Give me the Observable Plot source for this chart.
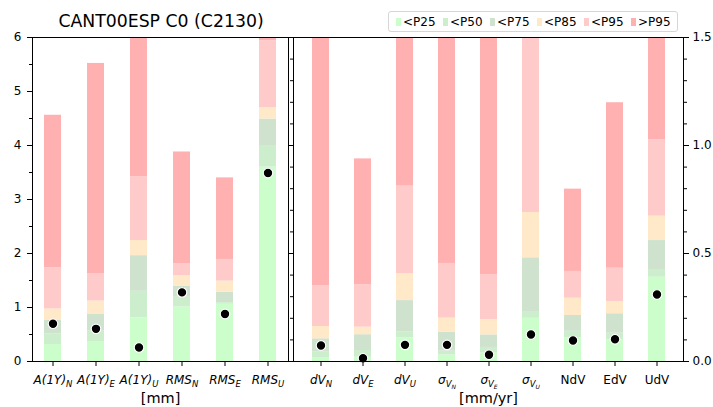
<!DOCTYPE html>
<html><head><meta charset="utf-8">
<script src="https://cdn.jsdelivr.net/npm/d3@7"></script>
<script src="https://cdn.jsdelivr.net/npm/@observablehq/plot@0.6"></script>
<style>
body{margin:0;background:#fff;}
#wrap{position:relative;width:713px;height:407px;font-family:"DejaVu Sans",sans-serif;overflow:hidden;background:#fff}
#wrap svg{position:absolute;top:0;overflow:visible}
#legend{position:absolute;left:388px;top:11px;width:290px;height:21px;border:1px solid #d6d6d6;border-radius:3px;background:rgba(255,255,255,0.85);box-sizing:border-box;font-size:12px;color:#000}
#legend .it{position:absolute;top:3px;white-space:nowrap;line-height:14px}
#legend .sw{display:inline-block;width:5px;height:8px;margin-right:2px;vertical-align:-0px}
#title{position:absolute;left:0;width:322px;top:10px;text-align:center;font-size:17.3px;line-height:22px;color:#000}
</style></head><body><div id="wrap"></div>
<script>
// ---------- data ----------
const title = "CANT00ESP C0 (C2130)";
const segments = ["<P25", "<P50", "<P75", "<P85", "<P95", ">P95"];
const segColors = ["#ccfecc", "#cdeecd", "#cee2ce", "#ffe9c9", "#ffcaca", "#ffb0b0"];

const leftCats = ["A(1Y)_N", "A(1Y)_E", "A(1Y)_U", "RMS_N", "RMS_E", "RMS_U"];
const leftItalic = [true, true, true, true, true, true];
const leftP25 = [0.315, 0.37, 0.81, 1.01, 1.06, 3.60];
const leftP50 = [0.51, 0.57, 1.30, 1.19, 1.09, 4.00];
const leftP75 = [0.76, 0.88, 1.96, 1.39, 1.28, 4.49];
const leftP85 = [0.975, 1.12, 2.24, 1.59, 1.49, 4.70];
const leftP95 = [1.735, 1.62, 3.42, 1.81, 1.89, 5.94];
const leftMax = [4.56, 5.52, 7.0, 3.88, 3.40, 7.0];
const leftVal = [0.70, 0.605, 0.26, 1.28, 0.88, 3.49];
const leftUnit = "[mm]";
const leftTicks = [0, 1, 2, 3, 4, 5, 6];
const leftMinor = [0.5, 1.5, 2.5, 3.5, 4.5, 5.5];

const rightCats = ["dV_N", "dV_E", "dV_U", "σ_{V_N}", "σ_{V_E}", "σ_{V_U}", "NdV", "EdV", "UdV"];
const rightItalic = [true, true, true, true, true, true, false, false, false];
const rightP25 = [0.018, 0.02, 0.11, 0.03, 0.04, 0.20, 0.11, 0.10, 0.39];
const rightP50 = [0.045, 0.051, 0.136, 0.048, 0.065, 0.231, 0.140, 0.131, 0.426];
const rightP75 = [0.105, 0.124, 0.282, 0.136, 0.123, 0.48, 0.213, 0.221, 0.56];
const rightP85 = [0.162, 0.159, 0.407, 0.201, 0.194, 0.69, 0.293, 0.278, 0.673];
const rightP95 = [0.35, 0.356, 0.812, 0.454, 0.403, 1.6, 0.417, 0.432, 1.026];
const rightMax = [2.0, 0.938, 2.0, 2.0, 2.0, 2.0, 0.798, 1.198, 2.0];
const rightVal = [0.074, 0.015, 0.077, 0.077, 0.031, 0.125, 0.097, 0.103, 0.31];
const rightUnit = "[mm/yr]";
const rightTicks = [0, 0.5, 1.0, 1.5];
const rightMinor = [0.1, 0.2, 0.3, 0.4, 0.6, 0.7, 0.8, 0.9, 1.1, 1.2, 1.3, 1.4];

// ---------- helpers ----------
function buildRows(cats, p25, p50, p75, p85, p95, mx) {
  const rows = [];
  cats.forEach((c, i) => {
    const b = [0, p25[i], p50[i], p75[i], p85[i], p95[i], mx[i]];
    segments.forEach((s, k) => rows.push({cat: c, seg: s, y1: b[k], y2: b[k + 1]}));
  });
  return rows;
}
function richLabels(svg, cats, italic) {
  const texts = svg.querySelectorAll('g[aria-label="x-axis tick label"] text');
  texts.forEach((t, i) => {
    const key = cats[i];
    if (key === undefined) return;
    while (t.firstChild) t.removeChild(t.firstChild);
    const ns = "http://www.w3.org/2000/svg";
    let base = key, sub = null, subsub = null;
    const u = key.indexOf("_");
    if (u >= 0) {
      base = key.slice(0, u);
      sub = key.slice(u + 1);
      if (sub.startsWith("{")) {
        sub = sub.slice(1, -1);
        const v = sub.indexOf("_");
        if (v >= 0) { subsub = sub.slice(v + 1); sub = sub.slice(0, v); }
      }
    }
    const ts = (txt, style) => {
      const e = document.createElementNS(ns, "tspan");
      e.textContent = txt;
      for (const k in style) e.setAttribute(k, style[k]);
      t.appendChild(e);
    };
    const fi = italic[i] ? "italic" : "normal";
    ts(base, {"font-style": fi});
    if (sub) ts(sub, {"font-style": fi, "font-size": "8.5px", dy: "3"});
    if (subsub) ts(subsub, {"font-style": fi, "font-size": "6px", dy: "2"});
  });
}
const style = {fontFamily: "DejaVu Sans, sans-serif", fontSize: "12px", color: "black", background: "transparent", overflow: "visible"};
const color = {domain: segments, range: segColors};

// ---------- left panel ----------
const leftRows = buildRows(leftCats, leftP25, leftP50, leftP75, leftP85, leftP95, leftMax);
const leftDots = leftCats.map((c, i) => ({cat: c, v: leftVal[i]}));
const left = Plot.plot({
  width: 290, height: 407,
  marginLeft: 32, marginRight: 2, marginTop: 37, marginBottom: 46,
  style, color,
  x: {domain: leftCats, paddingInner: 0.6, paddingOuter: 0.27, label: null},
  y: {domain: [0, 6], label: null},
  marks: [
    Plot.barY(leftRows, {x: "cat", y1: "y1", y2: "y2", fill: "seg", clip: true, insetLeft: 0, insetRight: 0}),
    Plot.dot(leftDots, {x: "cat", y: "v", fill: "black", stroke: "white", strokeWidth: 1.2, r: 4.8}),
    Plot.frame({stroke: "black", strokeWidth: 1}),
    Plot.axisY({ticks: leftTicks, tickSize: 5, tickPadding: 6, tickFormat: d => String(d), label: null}),
    Plot.axisY({ticks: leftMinor, tickSize: 3, tickFormat: () => "", label: null}),
    Plot.axisX({tickSize: 5, tickPadding: 8.5, tickFormat: d => d, label: null}),
    Plot.text([leftUnit], {frameAnchor: "bottom", dy: 41, fontSize: 14.5, text: d => d})
  ]
});
left.style.left = "0px";

// ---------- right panel ----------
const rightRows = buildRows(rightCats, rightP25, rightP50, rightP75, rightP85, rightP95, rightMax);
const rightDots = rightCats.map((c, i) => ({cat: c, v: rightVal[i]}));
const right = Plot.plot({
  width: 426, height: 407,
  marginLeft: 6, marginRight: 30, marginTop: 37, marginBottom: 46,
  style, color,
  x: {domain: rightCats, paddingInner: 0.6, paddingOuter: 0.42, label: null},
  y: {domain: [0, 1.5], label: null},
  marks: [
    Plot.barY(rightRows, {x: "cat", y1: "y1", y2: "y2", fill: "seg", clip: true, insetLeft: 0, insetRight: 0}),
    Plot.dot(rightDots, {x: "cat", y: "v", fill: "black", stroke: "white", strokeWidth: 1.2, r: 4.8}),
    Plot.frame({stroke: "black", strokeWidth: 1}),
    Plot.axisY({anchor: "right", ticks: rightTicks, tickSize: 5, tickPadding: 4, tickFormat: d3.format(".1f"), label: null}),
    Plot.axisY({anchor: "right", ticks: rightMinor, tickSize: 3, tickFormat: () => "", label: null}),
    Plot.axisY({anchor: "left", ticks: rightTicks, tickSize: 5, tickFormat: () => "", label: null}),
    Plot.axisY({anchor: "left", ticks: rightMinor, tickSize: 3, tickFormat: () => "", label: null}),
    Plot.axisX({tickSize: 5, tickPadding: 8.5, tickFormat: d => d, label: null}),
    Plot.text([rightUnit], {frameAnchor: "bottom", dy: 41, fontSize: 14.5, text: d => d})
  ]
});
right.style.left = "287px";

const wrap = document.getElementById("wrap");
wrap.appendChild(left);
wrap.appendChild(right);
richLabels(left, leftCats, leftItalic);
richLabels(right, rightCats, rightItalic);

// ---------- title ----------
const t = document.createElement("div");
t.id = "title";
t.textContent = title;
wrap.appendChild(t);

// ---------- legend ----------
const legend = document.createElement("div");
legend.id = "legend";
segments.forEach((s, i) => {
  const it = document.createElement("div");
  it.className = "it";
  it.style.left = (7 + 47 * i) + "px";
  const sw = document.createElement("span");
  sw.className = "sw";
  sw.style.background = segColors[i];
  it.appendChild(sw);
  it.appendChild(document.createTextNode(s));
  legend.appendChild(it);
});
wrap.appendChild(legend);
</script></body></html>
